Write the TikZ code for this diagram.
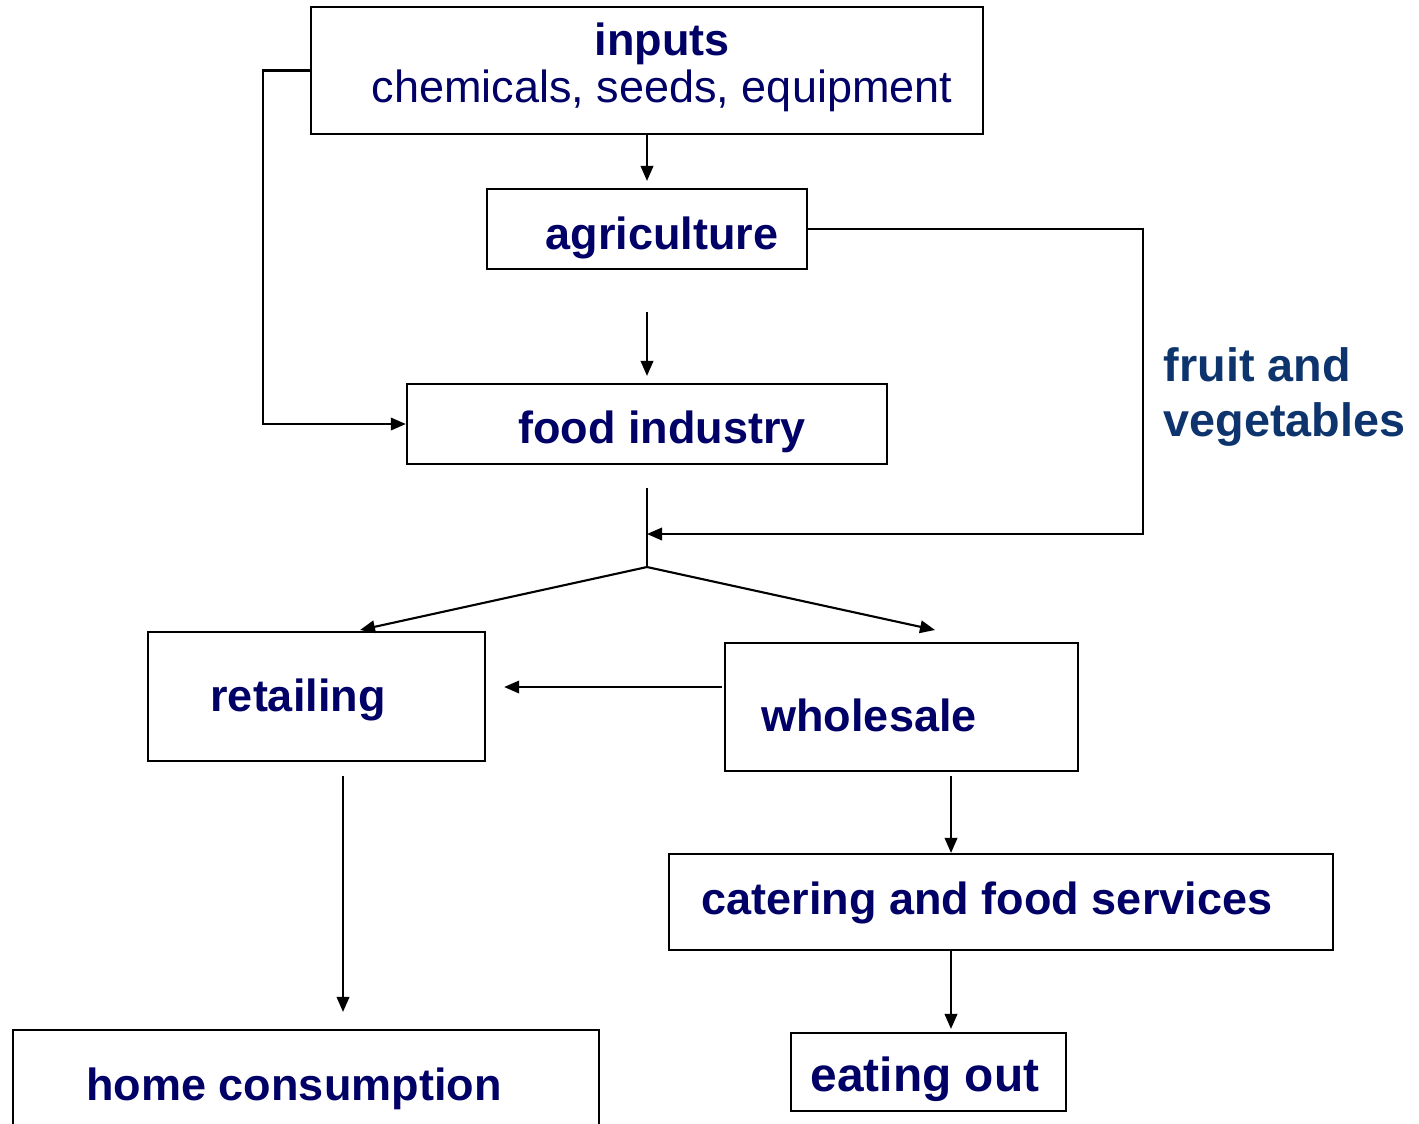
\documentclass[tikz,border=0pt]{standalone}
\usepackage{fontspec}
\setmainfont{Liberation Sans}
\usetikzlibrary{arrows.meta}
\definecolor{labelnavy}{RGB}{0,0,102}
\definecolor{producenavy}{RGB}{14,52,110}
\tikzset{
  box/.style={rectangle, draw=black, line width=0.6pt, inner sep=0pt},
  label text/.style={text=labelnavy, inner sep=0pt, font=\fontsize{12.8}{13.4}\selectfont\bfseries},
  flow/.style={line width=0.6pt, -{Triangle[length=1.5mm, width=1.25mm]}},
}
\begin{document}
\begin{tikzpicture}[x=0.01cm, y=-0.01cm]
  \useasboundingbox (0,0) rectangle (1419,1123);

  % boxes
  \node[box, minimum width=6.72cm, minimum height=1.27cm] (inputs) at (647,70.5) {};
  \node[box, minimum width=3.20cm, minimum height=0.80cm] (agriculture) at (647,229) {};
  \node[box, minimum width=4.80cm, minimum height=0.80cm] (foodIndustry) at (647,424) {};
  \node[box, minimum width=3.37cm, minimum height=1.29cm] (retailing) at (316.5,696.5) {};
  \node[box, minimum width=3.53cm, minimum height=1.28cm] (wholesale) at (901.5,707) {};
  \node[box, minimum width=6.64cm, minimum height=0.96cm] (catering) at (1001,902) {};
  \node[box, minimum width=2.75cm, minimum height=0.78cm] (eatingOut) at (928.5,1072) {};
  \node[box, minimum width=5.86cm, minimum height=1.20cm] (homeConsumption) at (306,1090) {};

  % texts
  \node[label text, align=center] (inputsText) at (662,67)
    {inputs\\\mdseries chemicals, seeds, equipment};
  \node[label text] (agricultureText) at (662,238) {agriculture};
  \node[label text] (foodIndustryText) at (662,432) {food industry};
  \node[label text] (retailingText) at (298,700) {retailing};
  \node[label text] (wholesaleText) at (869,715) {wholesale};
  \node[label text] (cateringText) at (987,903) {catering and food services};
  \node[label text, font=\fontsize{13.6}{14}\selectfont\bfseries] (eatingOutText) at (925,1079) {eating out};
  \node[label text] (homeText) at (294,1089) {home consumption};
  \node[label text, text=producenavy, align=left, anchor=west,
        font=\fontsize{13.3}{15.6}\selectfont\bfseries] (produceText) at (1163,397)
    {fruit and\\vegetables};

  % corners and free ends
  \coordinate (bypass) at (263,70.5);
  \coordinate (produceTurn) at (1143,534);
  \coordinate (merge) at (647,534);
  \coordinate (split) at (647,567);
  \coordinate (toRetail) at (360,630);
  \coordinate (toWholesale) at (935,630);

  % connectors
  \draw[flow, shorten >=0.07cm] (inputs.south) -- (agriculture.north);
  \draw[flow, shorten <=0.42cm, shorten >=0.07cm] (agriculture.south) -- (foodIndustry.north);
  \draw[flow] (inputs.west) -- (bypass) |- (foodIndustry.west);
  \draw[line width=0.6pt, shorten <=0.23cm] (foodIndustry.south) -- (split);
  \draw[flow] (agriculture.east) -| (produceTurn) -- (merge);
  \draw[flow] (split) -- (toRetail);
  \draw[flow] (split) -- (toWholesale);
  \draw[flow, shorten <=0.02cm, shorten >=0.18cm] ([yshift=0.2cm]wholesale.west) -- ([yshift=0.2cm]wholesale.west -| retailing.east);
  \draw[flow, shorten <=0.14cm, shorten >=0.17cm] ([xshift=0.265cm]retailing.south) -- ([xshift=0.265cm]retailing.south |- homeConsumption.north);
  \draw[flow, shorten <=0.04cm] ([xshift=0.495cm]wholesale.south) -- ([xshift=0.495cm]wholesale.south |- catering.north);
  \draw[flow, shorten >=0.03cm] ([xshift=-0.5cm]catering.south) -- ([xshift=-0.5cm]catering.south |- eatingOut.north);
\end{tikzpicture}
\end{document}
